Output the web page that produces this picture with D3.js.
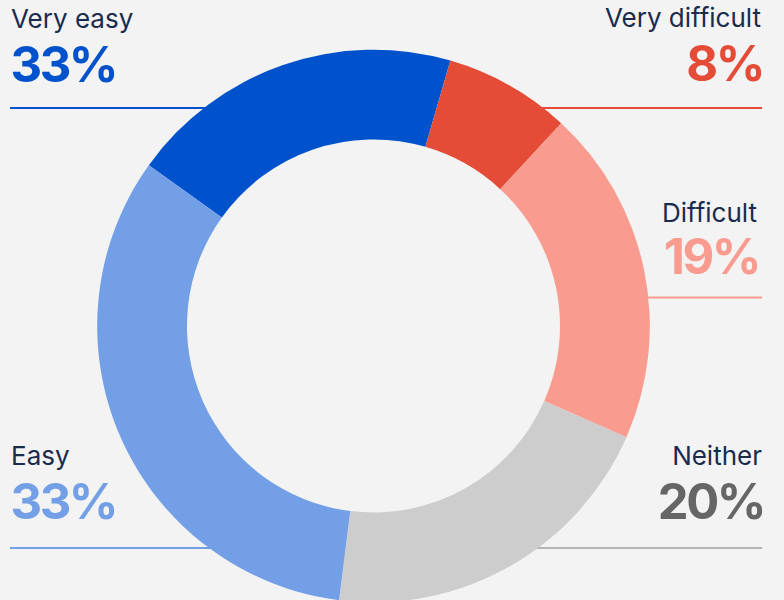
<!DOCTYPE html>
<html>
<head>
<meta charset="utf-8">
<script src="https://cdn.jsdelivr.net/npm/d3@7"></script>
<style>
  html, body { margin: 0; padding: 0; background: #f3f3f3; }
  svg { display: block; }
  text { font-family: Inter, "Noto Sans", sans-serif; }
</style>
</head>
<body>
<div id="chart"></div>
<script>
// ---- data ----
const categories = ["Very easy", "Very difficult", "Difficult", "Neither", "Easy"];
const values = [19.6, 7.4, 19.7, 20.4, 32.9];           // slice sizes as drawn
const valueLabels = ["33%", "8%", "19%", "20%", "33%"]; // printed labels
const colors = ["#0052cc", "#e44c37", "#f99b8e", "#cdcdcd", "#739fe6"];
const numberColors = ["#0052cc", "#e44c37", "#f99b8e", "#666666", "#739fe6"];
const lineColors = ["#0052cc", "#e44c37", "#f99b8e", "#b4b4b4", "#739fe6"];
const labelSide = ["left", "right", "right", "right", "left"];
const labelY = [27.5, 27, 221.5, 464.5, 464.5];
const numberY = [81.5, 80.5, 273.5, 518.5, 518.5];
const lineY = [108, 108, 297.5, 548, 548];
const textX = [11, 761, 757, 762, 11];

const W = 784, H = 600;
const cx = 373.5, cy = 326, rOuter = 276.3, rInner = 186.5;
const startDeg = -54.4;

const svg = d3.select("#chart").append("svg").attr("width", W).attr("height", H);
svg.append("rect").attr("width", W).attr("height", H).attr("fill", "#f3f3f3");

const pie = d3.pie().sort(null).value(d => d)
  .startAngle(startDeg * Math.PI / 180)
  .endAngle(startDeg * Math.PI / 180 + 2 * Math.PI);
const arcs = pie(values);
const arc = d3.arc().innerRadius(rInner).outerRadius(rOuter);

// leader lines (behind donut)
const rMid = (rInner + rOuter) / 2;
const gLines = svg.append("g");
categories.forEach((c, i) => {
  const ly = lineY[i];
  const dy = ly - cy;
  const dx = Math.sqrt(Math.max(0, rMid * rMid - dy * dy));
  const x1 = labelSide[i] === "left" ? 10 : W - 22;
  const x2 = labelSide[i] === "left" ? cx - dx : cx + dx;
  gLines.append("line")
    .attr("x1", x1).attr("x2", x2).attr("y1", ly).attr("y2", ly)
    .attr("stroke", lineColors[i]).attr("stroke-width", 2);
});

// donut
svg.append("g").attr("transform", `translate(${cx},${cy})`)
  .selectAll("path").data(arcs).join("path")
  .attr("d", arc).attr("fill", (d, i) => colors[i]);

// labels
const gText = svg.append("g");
categories.forEach((c, i) => {
  const left = labelSide[i] === "left";
  const anchor = left ? "start" : "end";
  gText.append("text").attr("x", textX[i]).attr("y", labelY[i])
    .attr("text-anchor", anchor).attr("font-size", 26).attr("fill", "#1a2b4c")
    .text(c);
  gText.append("text").attr("x", textX[i] + (left ? -0.5 : 2)).attr("y", numberY[i])
    .attr("text-anchor", anchor).attr("font-size", 49).attr("font-weight", 700)
    .attr("letter-spacing", -2.5)
    .attr("fill", numberColors[i]).text(valueLabels[i]);
});
</script>
</body>
</html>
